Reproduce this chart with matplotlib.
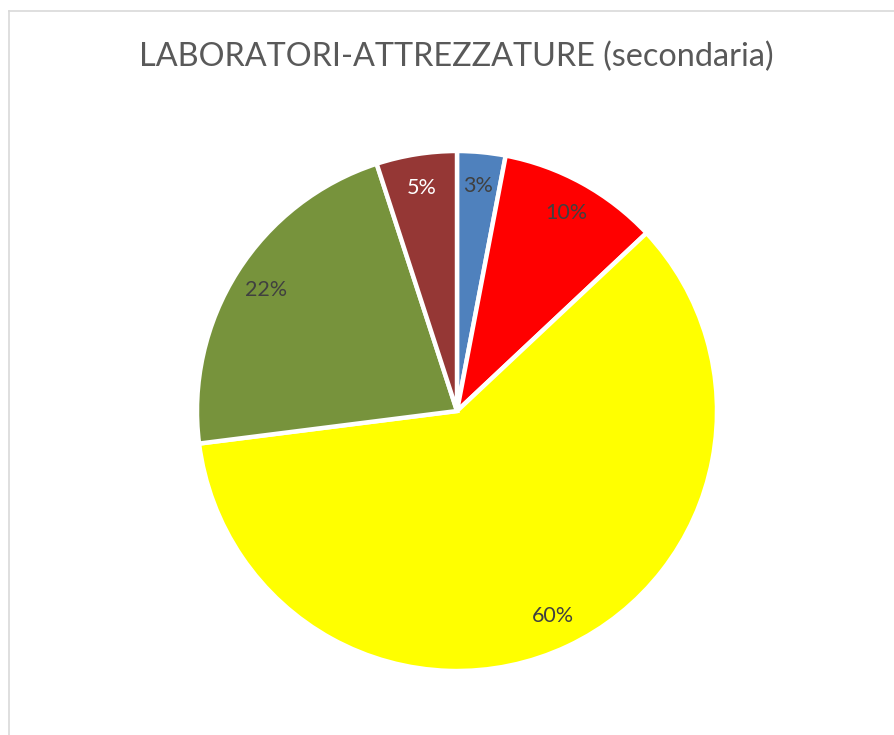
"""Pie chart: LABORATORI-ATTREZZATURE (secondaria)."""
import matplotlib
matplotlib.use("Agg")
import matplotlib.pyplot as plt
from matplotlib.lines import Line2D

plt.rcParams["font.family"] = ["Lato", "DejaVu Sans"]

# Slice shares (%), clockwise from 12 o'clock
values = [3, 10, 60, 22, 5]
colors = ["#4F81BD", "#FF0000", "#FFFF00", "#77933C", "#953735"]
label_colors = ["#404040", "#404040", "#404040", "#404040", "#FFFFFF"]
title = "LABORATORI-ATTREZZATURE (secondaria)"

W, H = 894, 735
fig = plt.figure(figsize=(W / 100, H / 100), dpi=100, facecolor="white")

# pie centre (457, 411) px, radius 260 px
cx, cy, r = 457, 411, 260
ax = fig.add_axes([(cx - r) / W, (H - cy - r) / H, 2 * r / W, 2 * r / H])

wedges, texts, autotexts = ax.pie(
    values,
    colors=colors,
    startangle=90,
    counterclock=False,
    autopct="%1.0f%%",
    pctdistance=0.87,
    wedgeprops=dict(edgecolor="white", linewidth=3.2),
    textprops=dict(fontsize=15.5),
)
for t, c in zip(autotexts, label_colors):
    t.set_color(c)
ax.set_xlim(-1, 1)
ax.set_ylim(-1, 1)
ax.set_aspect("equal")

fig.text(456.5 / W, 1 - 57 / H, title, ha="center", va="center",
         fontsize=23.3, color="#595959")

# chart border (only left and top edges are visible in the crop)
bx, by = 8.5 / W, 1 - 10.5 / H
fig.add_artist(Line2D([bx, bx], [0, by], color="#D9D9D9", lw=1.2,
                      transform=fig.transFigure))
fig.add_artist(Line2D([bx, 1], [by, by], color="#D9D9D9", lw=1.2,
                      transform=fig.transFigure))

fig.savefig("out.png", dpi=100, facecolor="white")
